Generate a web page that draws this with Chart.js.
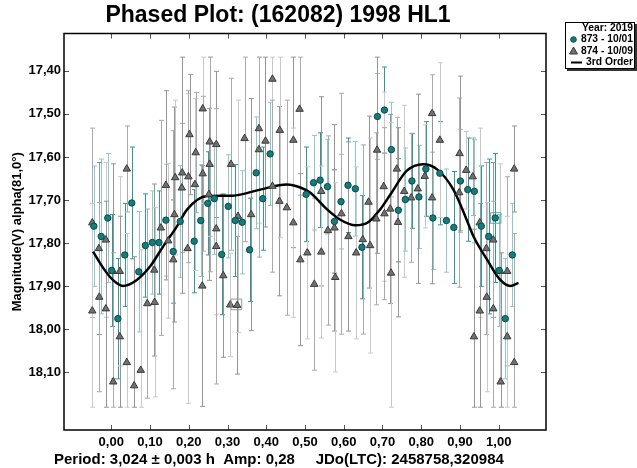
<!DOCTYPE html>
<html>
<head>
<meta charset="utf-8">
<script src="https://cdn.jsdelivr.net/npm/chart.js@4.4.1/dist/chart.umd.min.js"></script>
<style>
  html, body { margin: 0; padding: 0; background: #fff; }
</style>
</head>
<body>
<canvas id="phaseChart" width="637" height="468"></canvas>
<script>
// ---- data (phase 0..1, magnitude, error) ----
const phase873 = [0.001, 0.017, 0.035, 0.053, 0.071, 0.088, 0.106, 0.123, 0.141, 0.160, 0.178, 0.214, 0.231, 0.249, 0.266, 0.285, 0.302, 0.320, 0.338, 0.357, 0.374, 0.391, 0.410, 0.503, 0.522, 0.539, 0.558, 0.576, 0.593, 0.611, 0.630, 0.647, 0.687, 0.705, 0.723, 0.741, 0.759, 0.776, 0.794, 0.812, 0.830, 0.848, 0.865, 0.884, 0.901, 0.920, 0.937, 0.955, 0.974, 0.991];
const mag873 = [17.864, 17.976, 17.828, 17.707, 17.867, 17.806, 17.799, 17.799, 17.747, 17.820, 17.750, 17.796, 17.748, 17.708, 17.697, 17.827, 17.715, 17.748, 17.752, 17.816, 17.637, 17.697, 17.593, 17.687, 17.660, 17.654, 17.669, 17.750, 17.704, 17.666, 17.674, 17.810, 17.506, 17.491, 17.583, 17.724, 17.699, 17.656, 17.693, 17.628, 17.742, 17.638, 17.748, 17.764, 17.656, 17.676, 17.680, 17.761, 17.785, 17.742];
const err873 = [0.13, 0.14, 0.12, 0.13, 0.14, 0.12, 0.12, 0.12, 0.13, 0.12, 0.13, 0.12, 0.13, 0.12, 0.13, 0.14, 0.12, 0.13, 0.12, 0.12, 0.13, 0.12, 0.12, 0.11, 0.11, 0.11, 0.11, 0.12, 0.11, 0.11, 0.11, 0.12, 0.10, 0.10, 0.11, 0.12, 0.12, 0.11, 0.12, 0.11, 0.12, 0.12, 0.12, 0.13, 0.12, 0.12, 0.12, 0.14, 0.18, 0.15];

const phase874 = [0.004, 0.005, 0.022, 0.022, 0.040, 0.040, 0.059, 0.076, 0.093, 0.111, 0.112, 0.128, 0.141, 0.147, 0.160, 0.163, 0.165, 0.182, 0.183, 0.197, 0.199, 0.202, 0.216, 0.218, 0.235, 0.236, 0.236, 0.252, 0.254, 0.254, 0.271, 0.271, 0.271, 0.289, 0.307, 0.309, 0.325, 0.327, 0.344, 0.361, 0.381, 0.381, 0.398, 0.416, 0.416, 0.434, 0.435, 0.453, 0.470, 0.470, 0.486, 0.488, 0.506, 0.524, 0.542, 0.542, 0.559, 0.576, 0.578, 0.594, 0.612, 0.632, 0.649, 0.664, 0.668, 0.684, 0.686, 0.703, 0.705, 0.720, 0.722, 0.737, 0.740, 0.756, 0.774, 0.791, 0.809, 0.828, 0.828, 0.848, 0.898, 0.899, 0.916, 0.933, 0.936, 0.951, 0.951, 0.968, 0.969, 0.986, 0.986];
const mag874 = [17.866, 18.123, 17.866, 18.018, 17.628, 18.078, 18.132, 18.096, 17.941, 17.863, 17.938, 17.765, 17.666, 17.795, 17.839, 17.734, 17.648, 17.672, 17.637, 17.813, 17.646, 17.548, 17.664, 17.590, 17.900, 17.488, 17.639, 17.687, 17.565, 17.617, 17.571, 17.767, 17.808, 17.876, 17.944, 17.617, 17.945, 17.738, 17.557, 17.734, 17.534, 17.583, 17.563, 17.419, 17.668, 17.703, 17.538, 17.718, 17.561, 17.753, 17.489, 17.839, 17.823, 17.896, 17.680, 17.821, 17.771, 17.765, 17.880, 17.732, 17.785, 17.823, 17.792, 17.705, 17.806, 17.744, 17.584, 17.669, 17.732, 17.721, 17.870, 17.628, 17.752, 17.680, 17.695, 17.674, 17.645, 17.499, 17.695, 17.561, 17.683, 17.592, 17.631, 17.646, 18.018, 17.753, 17.958, 17.813, 17.926, 17.793, 17.953];
const err874 = [0.25, 0.30, 0.22, 0.28, 0.10, 0.30, 0.30, 0.28, 0.22, 0.20, 0.22, 0.25, 0.22, 0.18, 0.30, 0.25, 0.18, 0.15, 0.28, 0.36, 0.20, 0.14, 0.20, 0.14, 0.28, 0.22, 0.18, 0.20, 0.22, 0.25, 0.17, 0.20, 0.32, 0.19, 0.12, 0.20, 0.16, 0.27, 0.24, 0.27, 0.22, 0.25, 0.20, 0.17, 0.20, 0.22, 0.25, 0.25, 0.25, 0.22, 0.20, 0.20, 0.20, 0.20, 0.22, 0.20, 0.22, 0.24, 0.22, 0.28, 0.22, 0.20, 0.22, 0.20, 0.25, 0.20, 0.24, 0.22, 0.20, 0.22, 0.35, 0.12, 0.22, 0.20, 0.15, 0.22, 0.12, 0.09, 0.20, 0.18, 0.22, 0.18, 0.09, 0.09, 0.25, 0.22, 0.25, 0.20, 0.22, 0.18, 0.25];

// 3rd order fit curve
const fitPhase = [-0.047, -0.021, 0.004, 0.030, 0.066, 0.100, 0.134, 0.170, 0.196, 0.247, 0.314, 0.384, 0.453, 0.488, 0.513, 0.557, 0.591, 0.630, 0.663, 0.694, 0.720, 0.763, 0.805, 0.841, 0.883, 0.914, 0.935, 0.970, 1.004, 1.030, 1.051];
const fitMag = [17.820, 17.858, 17.886, 17.900, 17.886, 17.855, 17.808, 17.761, 17.722, 17.691, 17.690, 17.676, 17.664, 17.671, 17.683, 17.722, 17.746, 17.759, 17.752, 17.722, 17.688, 17.632, 17.617, 17.629, 17.676, 17.739, 17.785, 17.839, 17.886, 17.900, 17.893];

// flagged points (boxed in the original)
const markPhase = [0.323, 0.992];
const markMag = [17.943, 17.742];

const xTicks = [0, 0.1, 0.2, 0.3, 0.4, 0.5, 0.6, 0.7, 0.8, 0.9, 1.0];
const yTicks = [17.4, 17.5, 17.6, 17.7, 17.8, 17.9, 18.0, 18.1];

const FONT = "'Liberation Sans', Arial, sans-serif";
const WRAP_LO = -0.05, WRAP_HI = 1.05;   // phased plot shows a bit of the wrap on each side
const BAR_TOP = 17.368, BAR_BOT = 18.182; // error bars are cut here

function phased(ph, mg, er) {
    const pts = [];
    ph.forEach((p, i) => {
        pts.push({ x: p, y: mg[i], e: er[i] });
        if (p + 1 <= WRAP_HI) pts.push({ x: p + 1, y: mg[i], e: er[i] });
        if (p - 1 >= WRAP_LO) pts.push({ x: p - 1, y: mg[i], e: er[i] });
    });
    return pts;
}

function fmt(v) {
    return v.toFixed(2).replace(".", ",");
}

// ------------------------
// error bars, frame, inner ticks, legend, footer
// ------------------------
const phasePlugin = {
    id: "phasePlugin",
    beforeDatasetsDraw(chart) {
        const { ctx, chartArea: a, scales: { x, y } } = chart;
        ctx.save();
        ctx.beginPath();
        ctx.rect(a.left, a.top, a.width, a.height);
        ctx.clip();
        ctx.lineWidth = 1;
        chart.data.datasets.forEach(ds => {
            if (!ds.barColors) return;
            ds.data.forEach((p, i) => {
                const px = Math.round(x.getPixelForValue(p.x)) + 0.5;
                const y1 = y.getPixelForValue(Math.max(p.y - p.e, BAR_TOP));
                const y2 = y.getPixelForValue(Math.min(p.y + p.e, BAR_BOT));
                ctx.strokeStyle = ds.barColors[i % ds.barColors.length];
                ctx.beginPath();
                ctx.moveTo(px, y1); ctx.lineTo(px, y2);
                ctx.moveTo(px - 2.5, y1); ctx.lineTo(px + 2.5, y1);
                ctx.moveTo(px - 2.5, y2); ctx.lineTo(px + 2.5, y2);
                ctx.stroke();
            });
        });
        ctx.restore();
    },
    afterDraw(chart) {
        const { ctx, chartArea: a, scales: { x, y } } = chart;
        ctx.save();

        // ticks pointing inward on all four sides
        ctx.strokeStyle = "#555";
        ctx.lineWidth = 1;
        ctx.beginPath();
        xTicks.forEach(v => {
            const px = Math.round(x.getPixelForValue(v)) + 0.5;
            ctx.moveTo(px, a.bottom); ctx.lineTo(px, a.bottom - 5);
            ctx.moveTo(px, a.top); ctx.lineTo(px, a.top + 5);
        });
        yTicks.forEach(v => {
            const py = Math.round(y.getPixelForValue(v)) + 0.5;
            ctx.moveTo(a.left, py); ctx.lineTo(a.left + 5, py);
            ctx.moveTo(a.right, py); ctx.lineTo(a.right - 5, py);
        });
        ctx.stroke();

        // frame
        ctx.strokeStyle = "#000";
        ctx.lineWidth = 1.5;
        ctx.strokeRect(a.left, a.top, a.width, a.height);

        // legend box
        const L = 565, T = 22, W = 70, H = 47;
        ctx.fillStyle = "#333";
        ctx.fillRect(L + 2, T + 2, W, H);
        ctx.fillStyle = "#fff";
        ctx.fillRect(L, T, W, H);
        ctx.strokeStyle = "#000";
        ctx.lineWidth = 1;
        ctx.strokeRect(L + 0.5, T + 0.5, W - 1, H - 1);

        ctx.font = "bold 10.3px " + FONT;
        ctx.fillStyle = "#000";
        ctx.textAlign = "right";
        ctx.textBaseline = "middle";
        ctx.fillText("Year: 2019", 633, 28);
        ctx.fillText("873 - 10/01", 633, 39.5);
        ctx.fillText("874 - 10/09", 633, 51);
        ctx.fillText("3rd Order", 633, 62.5);

        const teal = chart.data.datasets[1], gray = chart.data.datasets[2];
        ctx.lineWidth = 1;
        ctx.fillStyle = teal.backgroundColor;
        ctx.strokeStyle = teal.borderColor;
        ctx.beginPath(); ctx.arc(573.5, 39.5, 2.8, 0, Math.PI * 2); ctx.fill(); ctx.stroke();
        ctx.fillStyle = gray.backgroundColor;
        ctx.strokeStyle = gray.borderColor;
        ctx.beginPath();
        ctx.moveTo(573.5, 47); ctx.lineTo(577.5, 54); ctx.lineTo(569.5, 54); ctx.closePath();
        ctx.fill(); ctx.stroke();
        ctx.strokeStyle = "#000";
        ctx.lineWidth = 2;
        ctx.beginPath(); ctx.moveTo(571, 62.5); ctx.lineTo(582, 62.5); ctx.stroke();

        // footer
        ctx.fillStyle = "#000";
        ctx.textAlign = "left";
        ctx.font = "bold 15px " + FONT;
        ctx.fillText("Period: 3,024 \u00b1 0,003 h  Amp: 0,28     JDo(LTC): 2458758,320984", 54, 460);
        ctx.restore();
    }
};

new Chart(document.getElementById("phaseChart"), {
    type: "scatter",
    data: {
        datasets: [
            {
                type: "line",
                label: "3rd Order",
                data: fitPhase.map((p, i) => ({ x: p, y: fitMag[i] })),
                borderColor: "#000",
                borderWidth: 2.5,
                pointRadius: 0,
                fill: false,
                cubicInterpolationMode: "monotone",
                order: 3
            },
            {
                label: "873 - 10/01",
                data: phased(phase873, mag873, err873),
                pointStyle: "circle",
                pointRadius: 3.2,
                backgroundColor: "#147c7c",
                borderColor: "#0b4a4a",
                borderWidth: 1,
                barColors: ["#2f9898", "#8ccaca"],
                order: 1
            },
            {
                label: "874 - 10/09",
                data: phased(phase874, mag874, err874),
                pointStyle: "triangle",
                pointRadius: 4.3,
                backgroundColor: "#707070",
                borderColor: "#3a3a3a",
                borderWidth: 1,
                barColors: ["#959595", "#c9c9c9", "#aaaaaa"],
                order: 2
            },
            {
                label: "marked",
                data: markPhase.map((p, i) => ({ x: p, y: markMag[i] })),
                pointStyle: "rect",
                pointRadius: 7.5,
                backgroundColor: "rgba(0,0,0,0)",
                borderColor: ["#999", "#5aa9a9"],
                borderWidth: 1,
                order: 0
            }
        ]
    },
    options: {
        responsive: false,
        animation: false,
        layout: { padding: { left: 10, right: 91, top: 0, bottom: 0 } },
        plugins: {
            legend: { display: false },
            tooltip: { enabled: false },
            title: {
                display: true,
                text: "Phased Plot: (162082) 1998 HL1",
                color: "#000",
                font: { family: FONT, size: 23, weight: "bold", lineHeight: 1.2 },
                padding: { top: 2, bottom: 3.9 }
            }
        },
        scales: {
            x: {
                type: "linear",
                min: -0.122,
                max: 1.122,
                grid: { display: false, drawTicks: false },
                border: { display: false },
                afterBuildTicks: s => { s.ticks = xTicks.map(v => ({ value: v })); },
                afterFit: s => { s.height = 38; },
                ticks: {
                    autoSkip: false,
                    maxRotation: 0,
                    padding: 5,
                    color: "#000",
                    font: { family: FONT, size: 13, weight: "bold" },
                    callback: v => fmt(v)
                }
            },
            y: {
                type: "linear",
                reverse: true,
                min: 17.313,
                max: 18.235,
                grid: { display: false, drawTicks: false },
                border: { display: false },
                afterBuildTicks: s => { s.ticks = yTicks.map(v => ({ value: v })); },
                afterFit: s => { s.width = 54; },
                title: {
                    display: true,
                    text: "Magnitude(V) alpha(81,0\u00b0)",
                    color: "#000",
                    font: { family: FONT, size: 13, weight: "bold" },
                    padding: { top: 0, bottom: 0 }
                },
                ticks: {
                    autoSkip: false,
                    padding: 3,
                    color: "#000",
                    font: { family: FONT, size: 13, weight: "bold" },
                    callback: v => fmt(v)
                }
            }
        }
    },
    plugins: [phasePlugin]
});
</script>
</body>
</html>
